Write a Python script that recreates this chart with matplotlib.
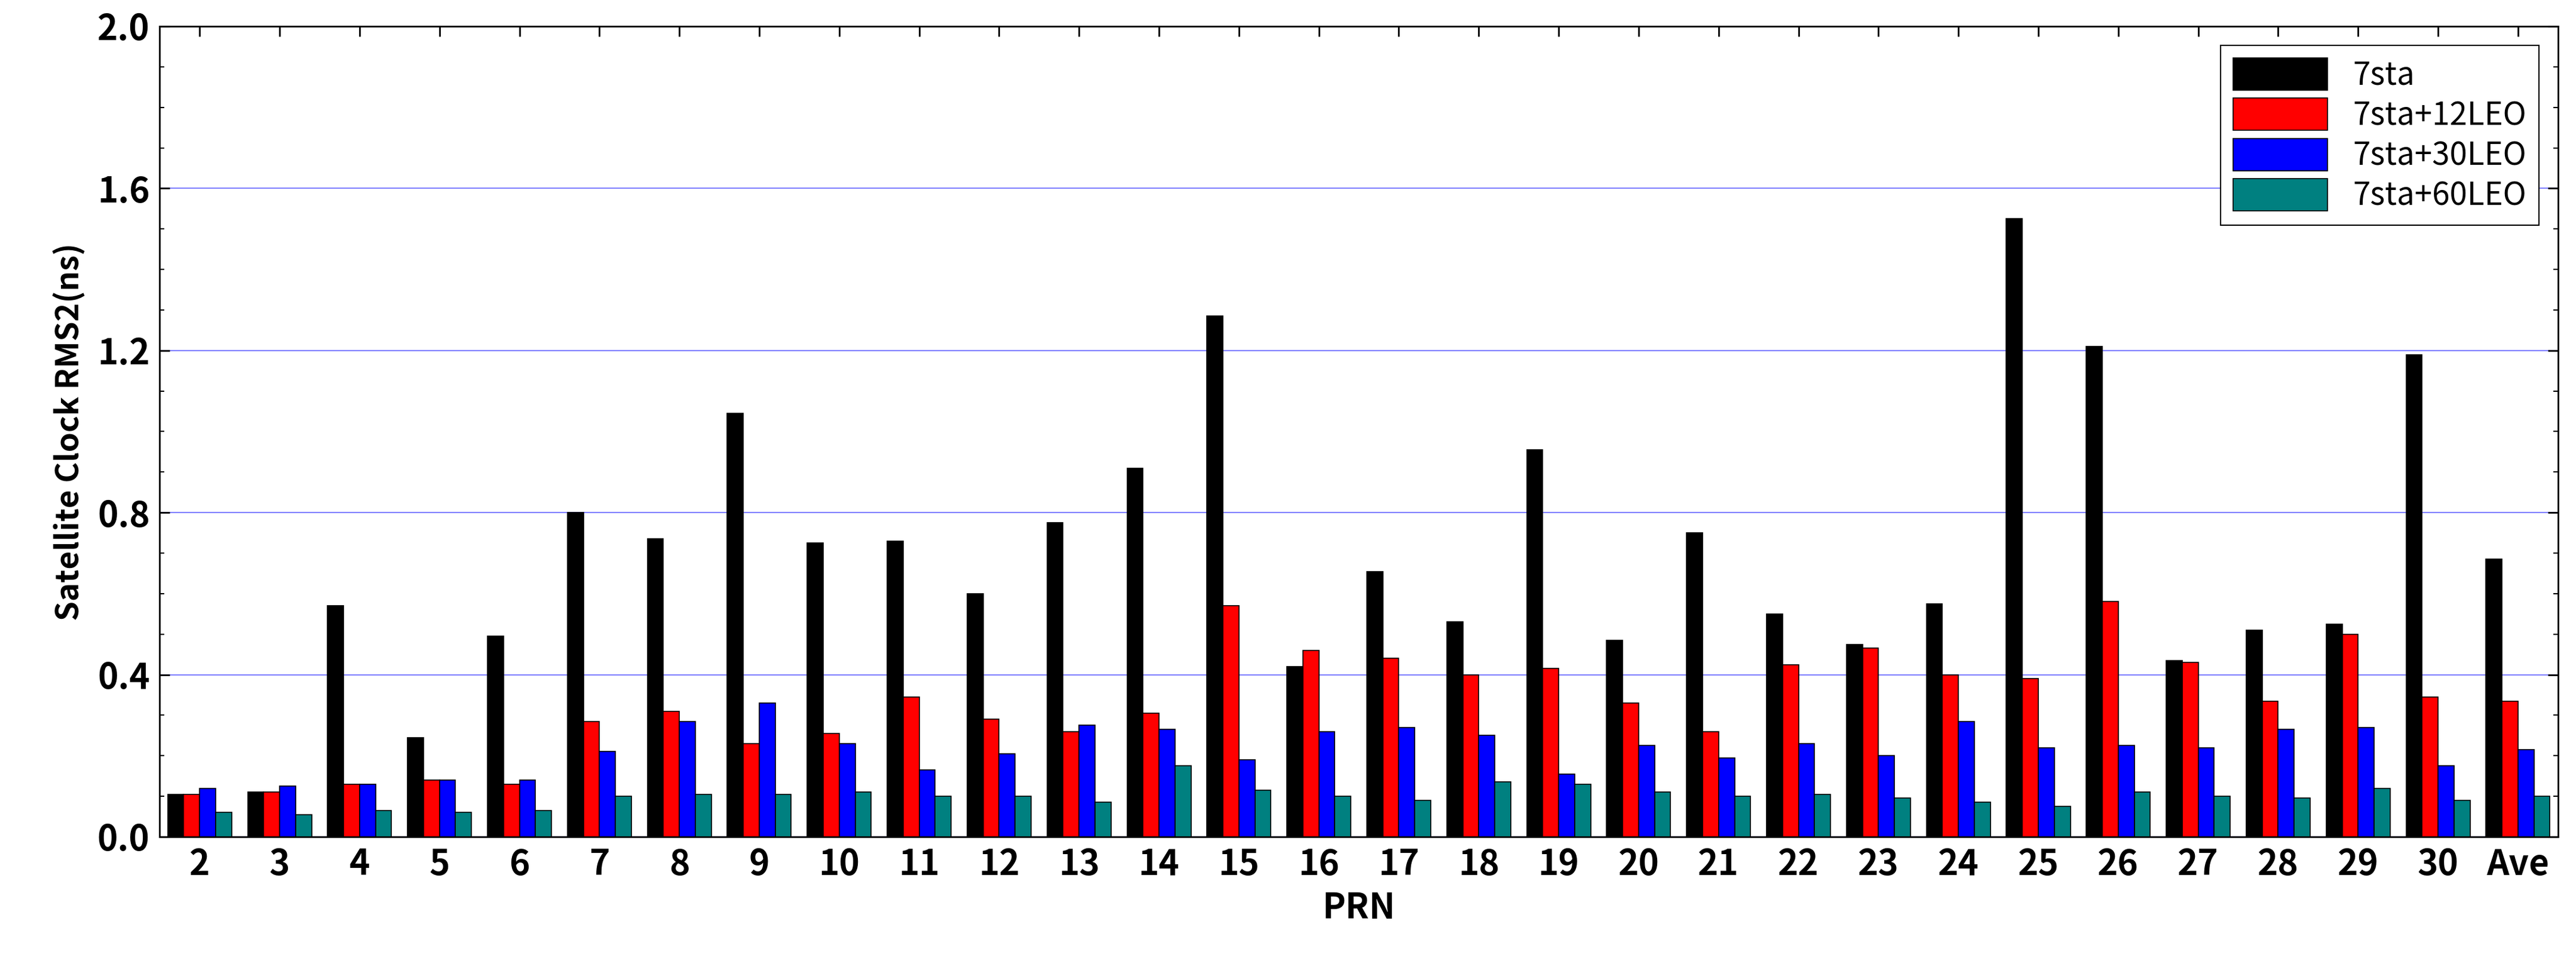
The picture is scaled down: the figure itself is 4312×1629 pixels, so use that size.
import numpy as np
import matplotlib.pyplot as plt
from matplotlib.ticker import MultipleLocator

categories = [str(i) for i in range(2, 31)] + ['Ave']
sta7 = [0.105, 0.11, 0.57, 0.245, 0.495, 0.80, 0.735, 1.045, 0.725, 0.73,
        0.60, 0.775, 0.91, 1.285, 0.42, 0.655, 0.53, 0.955, 0.485, 0.75,
        0.55, 0.475, 0.575, 1.525, 1.21, 0.435, 0.51, 0.525, 1.19, 0.685]
leo12 = [0.105, 0.11, 0.13, 0.14, 0.13, 0.285, 0.31, 0.23, 0.255, 0.345,
         0.29, 0.26, 0.305, 0.57, 0.46, 0.44, 0.40, 0.415, 0.33, 0.26,
         0.425, 0.465, 0.40, 0.39, 0.58, 0.43, 0.335, 0.50, 0.345, 0.335]
leo30 = [0.12, 0.125, 0.13, 0.14, 0.14, 0.21, 0.285, 0.33, 0.23, 0.165,
         0.205, 0.275, 0.265, 0.19, 0.26, 0.27, 0.25, 0.155, 0.225, 0.195,
         0.23, 0.20, 0.285, 0.22, 0.225, 0.22, 0.265, 0.27, 0.175, 0.215]
leo60 = [0.06, 0.055, 0.065, 0.06, 0.065, 0.10, 0.105, 0.105, 0.11, 0.10,
         0.10, 0.085, 0.175, 0.115, 0.10, 0.09, 0.135, 0.13, 0.11, 0.10,
         0.105, 0.095, 0.085, 0.075, 0.11, 0.10, 0.095, 0.12, 0.09, 0.10]

series = [(sta7, 'black', '7sta'), (leo12, 'red', '7sta+12LEO'),
          (leo30, 'blue', '7sta+30LEO'), (leo60, '#008080', '7sta+60LEO')]

plt.rcParams['font.family'] = ['Noto Sans CJK SC', 'DejaVu Sans']
fig = plt.figure(figsize=(43.12, 16.29), dpi=100)
ax = fig.add_axes([0.062, 0.140, 0.931, 0.833])

x = np.arange(len(categories))
w = 0.2
for i, (vals, col, lab) in enumerate(series):
    ax.bar(x + (i - 1.5) * w, vals, w, color=col, edgecolor='black',
           linewidth=1.2, label=lab, zorder=3)

ax.set_xlim(-0.5, len(categories) - 0.5)
ax.set_ylim(0, 2.0)
ax.set_xticks(x)
ax.set_xticklabels(categories, fontsize=42, fontweight='bold')
ax.yaxis.set_minor_locator(MultipleLocator(0.1))
ax.set_yticks(np.arange(0, 2.01, 0.4))
ax.set_yticklabels([f'{v:.1f}' for v in np.arange(0, 2.01, 0.4)],
                   fontsize=42, fontweight='bold')
ax.tick_params(direction='in', length=12, width=2, top=True, right=True,
               pad=12)
ax.tick_params(which='minor', direction='in', length=6, width=1.5,
               right=True)
ax.grid(True, axis='y', color='#8080ff', linewidth=1.5, zorder=0)
for s in ax.spines.values():
    s.set_linewidth(2)
ax.set_xlabel('PRN', fontsize=42, fontweight='bold', labelpad=10)
ax.set_ylabel('Satellite Clock RMS2(ns)', fontsize=38, fontweight='bold',
              labelpad=14)
leg = ax.legend(loc='upper right', fontsize=38, fancybox=False,
                edgecolor='black', framealpha=1, borderaxespad=0.6,
                handlelength=3, handleheight=1.2, labelspacing=0.2)
leg.get_frame().set_linewidth(1.5)

fig.savefig('out.png', dpi=100)
